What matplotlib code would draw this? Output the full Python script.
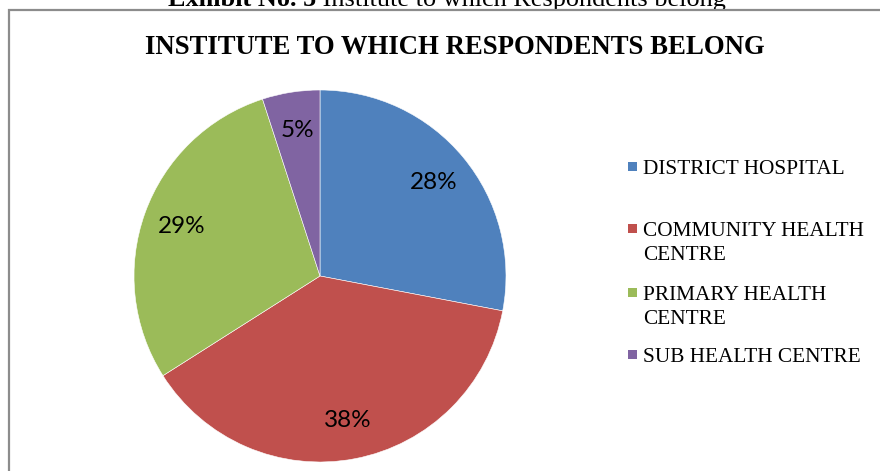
import matplotlib.pyplot as plt
from matplotlib.patches import Rectangle

# data
categories = ['DISTRICT HOSPITAL', 'COMMUNITY HEALTH\nCENTRE',
              'PRIMARY HEALTH\nCENTRE', 'SUB HEALTH CENTRE']
shares = [28, 38, 29, 5]
colors = ['#4F81BD', '#C0504D', '#9BBB59', '#8064A2']

W, H = 880, 471
fig = plt.figure(figsize=(W / 100, H / 100), dpi=100)

# outer chart border (runs off the right and bottom edges)
fig.patches.append(Rectangle((9 / W, -0.1), 1.2, (H - 10) / H + 0.1,
                             transform=fig.transFigure, fill=False,
                             edgecolor='#8c8c8c', linewidth=1.6))

fig.text(455 / W, 1 - 47 / H, 'INSTITUTE TO WHICH RESPONDENTS BELONG',
         fontfamily='Liberation Serif', fontweight='bold', fontsize=19.3,
         ha='center', va='center')

# pie, centre (320, 276) px, radius 186 px
r = 186
pad = 1.05
ax = fig.add_axes([(320 - r * pad) / W, (H - 276 - r * pad) / H,
                   2 * r * pad / W, 2 * r * pad / H])
wedges, _, autotexts = ax.pie(shares, colors=colors, startangle=90,
                              counterclock=False, autopct='%d%%',
                              pctdistance=0.79, radius=1,
                              wedgeprops=dict(edgecolor='white', linewidth=0.4))
for t in autotexts:
    t.set_fontfamily('Lato')
    t.set_fontsize(17.5)
    t.set_color('black')
ax.set_xlim(-pad, pad)
ax.set_ylim(-pad, pad)
ax.set_aspect('equal')
ax.axis('off')

# caption above the box, partly cut off like the source
t1 = fig.text(168 / W, 1 - 6 / H, 'Exhibit No. 5', fontfamily='Liberation Serif',
              fontweight='bold', fontsize=18.9, ha='left', va='baseline')
ax.annotate(' Institute to which Respondents belong', xy=(1, 0),
            xycoords=t1, va='bottom', ha='left',
            fontfamily='Liberation Serif', fontsize=18.9,
            annotation_clip=False)

# legend entries
legend_y = [167, 229, 293, 355]
for label, col, y in zip(categories, colors, legend_y):
    fig.patches.append(Rectangle((628 / W, 1 - (y + 4) / H), 9 / W, 9 / H,
                                 transform=fig.transFigure, facecolor=col,
                                 edgecolor='none'))
    fig.text(643 / W, 1 - (y - 7) / H, label, fontfamily='Liberation Serif',
             fontsize=15.3, ha='left', va='top', linespacing=1.35)

fig.savefig('out.png', dpi=100)
